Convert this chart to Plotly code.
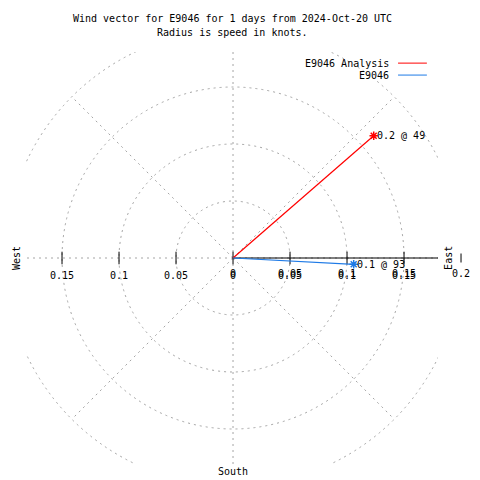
import numpy as np
import plotly.graph_objects as go

# ---- data ----
series_names = ["E9046 Analysis", "E9046"]
speeds_kt = [0.1635, 0.106]
directions_deg = [49, 93]
series_colors = ["#ff0000", "#1e7ae6"]

grid_radii = [0.05, 0.1, 0.15, 0.2]
grid_angles = [0, 45, 90, 135, 180, 225, 270, 315]

rtick_vals = [0, 0.05, 0.1, 0.15, 0.2]
rtick_text = ["0", "0.05", "0.1", "0.15", "0.2"]
xtick_vals = [-0.15, -0.1, -0.05, 0, 0.05, 0.1, 0.15]
xtick_text = ["0.15", "0.1", "0.05", "0", "0.05", "0.1", "0.15"]

title_lines = ["Wind vector for E9046 for 1 days from 2024-Oct-20 UTC",
               "Radius is speed in knots."]

X_RANGE = [-0.1816, 0.1798]
Y_RANGE = [-0.1807, 0.1807]

FONT = dict(family="DejaVu Sans Mono", size=10, color="black")
GRID = dict(color="#a4a4a4", width=1, dash="2px,4px")

fig = go.Figure()
shapes = []
annotations = []


def x_to_paper(v):
    return (v - X_RANGE[0]) / (X_RANGE[1] - X_RANGE[0])


# polar grid circles
for r in grid_radii:
    shapes.append(dict(type="circle", xref="x", yref="y", x0=-r, x1=r, y0=-r, y1=r,
                       line=GRID, layer="below"))
# radial grid lines
rmax = max(grid_radii)
for a in grid_angles:
    t = np.deg2rad(a)
    shapes.append(dict(type="line", xref="x", yref="y", x0=0, y0=0,
                       x1=rmax * np.cos(t), y1=rmax * np.sin(t), line=GRID, layer="below"))

# black radial axis along east
fig.add_trace(go.Scatter(x=[0, rmax], y=[0, 0], mode="lines",
                         line=dict(color="black", width=1), showlegend=False, hoverinfo="skip"))

# tick marks inside the plot range
tick_all = sorted(set(xtick_vals + rtick_vals))
tick_in = [v for v in tick_all if X_RANGE[0] <= v <= X_RANGE[1]]
tick_out = [v for v in tick_all if not (X_RANGE[0] <= v <= X_RANGE[1])]
fig.add_trace(go.Scatter(x=tick_in, y=[0] * len(tick_in), mode="markers",
                         marker=dict(symbol="line-ns", size=9, color="black",
                                     line=dict(color="black", width=1)),
                         cliponaxis=False, showlegend=False, hoverinfo="skip"))
# ticks beyond the plotted range (drawn in paper space)
for v in tick_out:
    shapes.append(dict(type="line", xref="paper", yref="y", x0=x_to_paper(v), x1=x_to_paper(v),
                       y0=0, y1=0, ysizemode="pixel", yanchor=0,
                       line=dict(color="black", width=1)))
    shapes[-1].update(y0=-4.5, y1=4.5)


def add_label(v, text, yshift):
    if X_RANGE[0] <= v <= X_RANGE[1]:
        annotations.append(dict(x=v, y=0, xref="x", yref="y", text=text, showarrow=False,
                                xanchor="center", yanchor="top", yshift=yshift, font=FONT))
    else:
        annotations.append(dict(x=x_to_paper(v), y=0, xref="paper", yref="y", text=text,
                                showarrow=False, xanchor="center", yanchor="top",
                                yshift=yshift, font=FONT))


# tick labels (r tics and x tics overlap on the east side)
for v, t in zip(rtick_vals, rtick_text):
    add_label(v, t, -8)
for v, t in zip(xtick_vals, xtick_text):
    add_label(v, t, -10)

# wind vectors
for name, s, d, c in zip(series_names, speeds_kt, directions_deg, series_colors):
    th = np.deg2rad(d)
    ex, ey = s * np.sin(th), s * np.cos(th)
    fig.add_trace(go.Scatter(x=[0, ex], y=[0, ey], mode="lines",
                             line=dict(color=c, width=1.2), name=name, showlegend=False))
    fig.add_trace(go.Scatter(x=[ex], y=[ey], mode="markers",
                             marker=dict(symbol="asterisk-open", size=7, color=c,
                                         line=dict(color=c, width=1.5)),
                             showlegend=False, cliponaxis=False))
    annotations.append(dict(x=ex, y=ey, xref="x", yref="y", text=f"{s:.1f} @ {d}",
                            showarrow=False, xanchor="left", yanchor="middle",
                            xshift=1, font=FONT))

# manual legend (text right-aligned, sample line on the right)
leg_y = [0.973, 0.944]
for name, c, ly in zip(series_names, series_colors, leg_y):
    annotations.append(dict(x=0.887, y=ly, xref="paper", yref="paper", text=name,
                            showarrow=False, xanchor="right", yanchor="middle", font=FONT))
    shapes.append(dict(type="line", xref="paper", yref="paper", x0=0.903, x1=0.973,
                       y0=ly, y1=ly, line=dict(color=c, width=1)))

# compass labels
annotations.append(dict(x=-0.024, y=0, xref="paper", yref="y", text="West", textangle=-90,
                        showarrow=False, xanchor="center", yanchor="middle", font=FONT))
annotations.append(dict(x=1.024, y=0, xref="paper", yref="y", text="East", textangle=-90,
                        showarrow=False, xanchor="center", yanchor="middle", font=FONT))
annotations.append(dict(x=0, y=-0.017, xref="x", yref="paper", text="South",
                        showarrow=False, xanchor="center", yanchor="middle", font=FONT))

# title
annotations.append(dict(x=0.5, y=1.0825, xref="paper", yref="paper", text=title_lines[0],
                        showarrow=False, xanchor="center", yanchor="middle", font=FONT))
annotations.append(dict(x=0.5, y=1.0485, xref="paper", yref="paper", text=title_lines[1],
                        showarrow=False, xanchor="center", yanchor="middle", font=FONT))

# page has an 8px body margin, so shift the plot area up/left by 8px
fig.update_layout(
    width=480, height=480, autosize=False,
    margin=dict(l=18, r=50, t=44, b=24),
    paper_bgcolor="white", plot_bgcolor="white",
    xaxis=dict(range=X_RANGE, visible=False, fixedrange=True),
    yaxis=dict(range=Y_RANGE, visible=False, fixedrange=True),
    shapes=shapes, annotations=annotations, showlegend=False,
)

fig.write_html("out.html")
